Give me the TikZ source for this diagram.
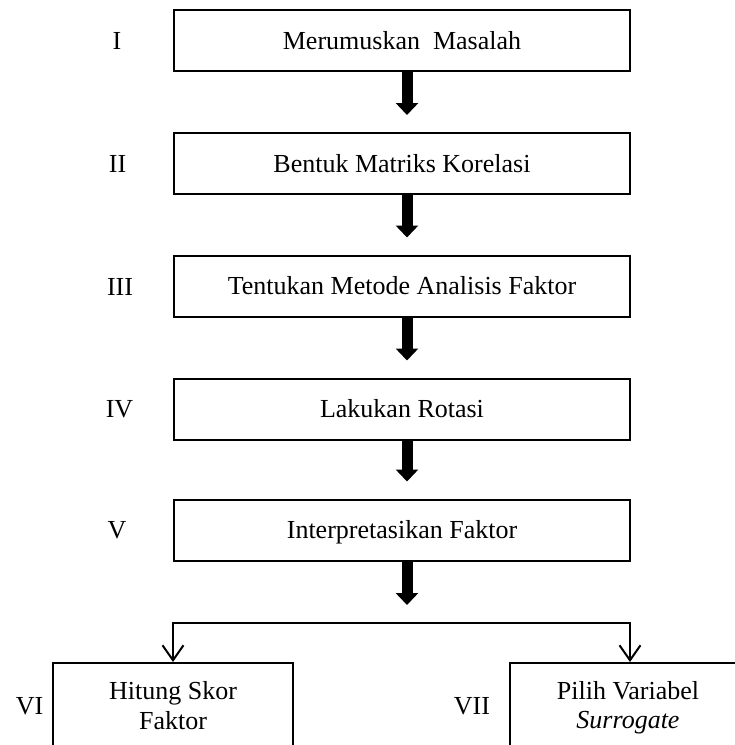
\documentclass[tikz,border=0pt]{standalone}
\usepackage{fontspec}
\setmainfont{Liberation Serif}
\usetikzlibrary{arrows.meta}
\begin{document}
\begin{tikzpicture}[x=1pt,y=-1pt,
  stepbox/.style={draw, line width=2pt, minimum width=456pt, minimum height=61pt, inner sep=0pt, font=\fontsize{26}{30}\selectfont, text height=17pt, text depth=0pt},
  lowbox/.style={draw, line width=2pt, minimum width=240pt, minimum height=84pt, inner sep=0pt},
  lbl/.style={font=\fontsize{26}{30}\selectfont, text height=17pt, text depth=0pt, inner sep=0pt},
  txt/.style={font=\fontsize{26}{30}\selectfont, anchor=base, inner sep=0pt},
  bigarrow/.style={line width=11pt, -{Triangle[length=12pt,width=22pt]}},
  barb/.style={line width=2pt, line join=miter, -{Straight Barb[length=15pt,width=21pt]}}
]
\useasboundingbox (0,0) rectangle (735,745);
\clip (0,0) rectangle (735,745);

\node[stepbox] (b1) at (402,40.5) {Merumuskan\ \ Masalah};
\node[stepbox] (b2) at (402,163.5) {Bentuk Matriks Korelasi};
\node[stepbox] (b3) at (402,286) {Tentukan Metode Analisis Faktor};
\node[stepbox] (b4) at (402,409) {Lakukan Rotasi};
\node[stepbox] (b5) at (402,530) {Interpretasikan Faktor};

\node[lbl] (l1) at (117,40.5) {I};
\node[lbl] (l2) at (117.5,163.5) {II};
\node[lbl] (l3) at (120,287) {III};
\node[lbl] (l4) at (119.5,409) {IV};
\node[lbl] (l5) at (117,530) {V};

\node[lowbox] (b6) at (173,705) {};
\node[lowbox] (b7) at (630,705) {};
\node[txt] (t6a) at (173,699) {Hitung Skor};
\node[txt] (t6b) at (173,729) {Faktor};
\node[txt] (t7a) at (628,699) {Pilih Variabel};
\node[txt] (t7b) at (628,728) {\itshape Surrogate};
\node[lbl] (l6) at (29.5,706) {VI};
\node[lbl] (l7) at (472,706) {VII};

\draw[bigarrow] ([xshift=5pt]b1.south) -- ([xshift=5pt,yshift=17pt]b2.north);
\draw[bigarrow] ([xshift=5pt]b2.south) -- ([xshift=5pt,yshift=17pt]b3.north);
\draw[bigarrow] ([xshift=5pt]b3.south) -- ([xshift=5pt,yshift=17pt]b4.north);
\draw[bigarrow] ([xshift=5pt]b4.south) -- ([xshift=5pt,yshift=17pt]b5.north);

\coordinate (fork) at (402,623);
\draw[bigarrow] ([xshift=5pt]b5.south) -- ([xshift=5pt,yshift=18pt]fork);
\draw[barb] (fork) -| (b6.north);
\draw[barb] (fork) -| (b7.north);
\end{tikzpicture}
\end{document}
